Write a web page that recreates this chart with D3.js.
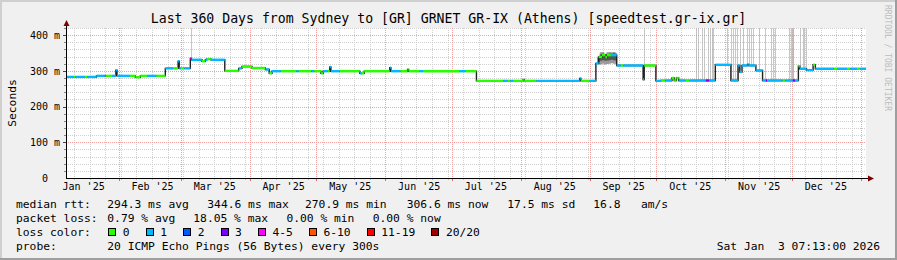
<!DOCTYPE html>
<html lang="en">
<head>
  <meta charset="UTF-8" />
  <title>Last 360 Days from Sydney to GR-IX</title>
  <style>
    html, body { margin: 0; padding: 0; background: #f0f0f0; }
    svg { display: block; font-family: 'DejaVu Sans Mono', monospace; }
    text { fill: #000; white-space: pre; }
  </style>
</head>
<body>
  <svg width="897" height="260"></svg>

  <script src="https://d3js.org/d3.v7.min.js"></script>
  <script>
    // loss classes
    const lossLabels = ["0", "1", "2", "3", "4-5", "6-10", "11-19", "20/20"];
    const lossColors = ["#26ff00", "#00b8ff", "#0059ff", "#7e00ff", "#ff00ff", "#ff5500", "#ff0000", "#a10000"];

    // median rtt runs: each run lasts until the next one starts
    const runStart = [
      "2025-01-08 07", "2025-01-11 18", "2025-01-12 12", "2025-01-16 18", "2025-01-18", "2025-01-22",
      "2025-01-25 18", "2025-01-26 06", "2025-01-29", "2025-01-30 18", "2025-01-31 06",
      "2025-02-06", "2025-02-08 12", "2025-02-10 18", "2025-02-14", "2025-02-18", "2025-02-22",
      "2025-02-25 12", "2025-02-27 18", "2025-02-28 06",
      "2025-03-01", "2025-03-02 12", "2025-03-05 06", "2025-03-05 18", "2025-03-10 12", "2025-03-12",
      "2025-03-12 18", "2025-03-14 12", "2025-03-20 18", "2025-03-27", "2025-03-28 12",
      "2025-04-02", "2025-04-08", "2025-04-09 18", "2025-04-11", "2025-04-15", "2025-04-22",
      "2025-04-23", "2025-04-28 18", "2025-04-30",
      "2025-05-03", "2025-05-04", "2025-05-06", "2025-05-07", "2025-05-07 12", "2025-05-11 12",
      "2025-05-20 12", "2025-05-21 12", "2025-05-22 12",
      "2025-06-03", "2025-06-03 12", "2025-06-07 18", "2025-06-11", "2025-06-11 12", "2025-06-16 12",
      "2025-06-18",
      "2025-07-04 12", "2025-07-07", "2025-07-12", "2025-07-24", "2025-07-26", "2025-07-27 06",
      "2025-07-28 12",
      "2025-08-02", "2025-08-02 12", "2025-08-08", "2025-08-27 12", "2025-08-28",
      "2025-09-01", "2025-09-03 18", "2025-09-05", "2025-09-06 12", "2025-09-08", "2025-09-08 18",
      "2025-09-10 12", "2025-09-13 03", "2025-09-15", "2025-09-16", "2025-09-25", "2025-09-25 12",
      "2025-09-30 18",
      "2025-10-03", "2025-10-05", "2025-10-08", "2025-10-09", "2025-10-10", "2025-10-11", "2025-10-14",
      "2025-10-16", "2025-10-23 06", "2025-10-24 18", "2025-10-27 12",
      "2025-11-03 12", "2025-11-06 18", "2025-11-07 12", "2025-11-08 12", "2025-11-11", "2025-11-11 12",
      "2025-11-14 18", "2025-11-17 18", "2025-11-19 06", "2025-11-19 18", "2025-11-26 18", "2025-11-28",
      "2025-12-01 09", "2025-12-02 09", "2025-12-03 21", "2025-12-04 12", "2025-12-07 12", "2025-12-10 12",
      "2025-12-11 12", "2025-12-19 18", "2025-12-21 06", "2025-12-25 18", "2025-12-27 06", "2025-12-30 06",
      "2025-12-31 18"
    ];
    const runMedian = [
      283, 283, 283, 283, 283, 286,
      286, 286, 286, 302, 286,
      286, 282, 286, 286, 286, 307,
      307, 327, 307,
      307, 307, 335, 331, 327, 331,
      333, 331, 300, 307, 312,
      308, 304, 293, 299, 299, 299,
      299, 299, 299,
      293, 299, 299, 311, 299, 299,
      293, 293, 299,
      309, 299, 299, 304, 299, 299,
      299,
      299, 299, 272, 272, 272, 272,
      272,
      275, 272, 272, 279, 272,
      272, 321, 339, 344, 339, 344,
      344, 315, 315, 315, 276, 315,
      272,
      273, 273, 280, 273, 280, 273, 273,
      273, 273, 273, 317,
      273, 315, 297, 315, 318, 315,
      301, 273, 273, 273, 273, 273,
      273, 273, 313, 306, 302, 317,
      306, 306, 306, 306, 306, 306,
      306
    ];
    const runLoss = [
      1, 0, 1, 0, 1, 1,
      4, 0, 1, 1, 1,
      0, 0, 0, 1, 0, 1,
      0, 1, 1,
      0, 1, 4, 1, 0, 1,
      0, 1, 0, 1, 0,
      0, 1, 0, 1, 0, 1,
      0, 1, 0,
      0, 1, 0, 1, 1, 0,
      1, 0, 0,
      1, 1, 0, 0, 0, 1,
      0,
      1, 0, 0, 1, 0, 1,
      0,
      1, 0, 1, 1, 0,
      1, 1, 0, 0, 0, 0,
      1, 1, 0, 1, 1, 0,
      1,
      0, 1, 0, 0, 0, 1, 0,
      1, 3, 1, 1,
      1, 1, 1, 1, 1, 1,
      1, 1, 3, 1, 0, 1,
      3, 1, 0, 1, 1, 0,
      1, 0, 1, 0, 1, 0,
      1
    ];

    // dense smoke around early September
    const bandDates = ["2025-09-04 12", "2025-09-05 12", "2025-09-06 12", "2025-09-07 12", "2025-09-08 12",
                       "2025-09-09 12", "2025-09-10 12", "2025-09-11 12", "2025-09-12 12", "2025-09-13 03"];
    const bandLo    = [317, 318, 320, 318, 319, 320, 321, 320, 318, 318];
    const bandHi    = [340, 352, 353, 348, 352, 353, 352, 353, 351, 351];
    const bandInLo  = [325, 328, 330, 328, 329, 330, 331, 330, 328, 328];
    const bandInHi  = [338, 346, 348, 344, 347, 348, 348, 349, 346, 346];

    // single pings above the top of the graph
    const spikeDates = [
      "2025-03-05 12", "2025-09-25 12",
      "2025-10-19 00", "2025-10-19 18", "2025-10-21 10", "2025-10-22 14",
      "2025-10-24 10", "2025-10-25 06", "2025-10-25 20", "2025-10-26 14",
      "2025-11-01 16", "2025-11-03 14", "2025-11-04 12", "2025-11-05 12", "2025-11-06 06",
      "2025-11-07 18", "2025-11-08 18", "2025-11-10 18", "2025-11-11 12", "2025-11-12 10", "2025-11-13 06",
      "2025-11-16 06", "2025-11-19 00", "2025-11-21 18", "2025-11-22 12", "2025-11-23 06",
      "2025-11-29 20", "2025-11-30 08", "2025-11-30 20", "2025-12-01 08", "2025-12-01 14",
      "2025-12-04 18", "2025-12-05 18", "2025-12-06 12", "2025-12-07 10"
    ];

    const yTicks = [0, 100, 200, 300, 400];

    const rttStats  = ["294.3 ms avg", "344.6 ms max", "270.9 ms min", "306.6 ms now", "17.5 ms sd", "16.8   am/s"];
    const lossStats = ["0.79 % avg", "18.05 % max", "0.00 % min", "0.00 % now"];
    const probeText = "20 ICMP Echo Pings (56 Bytes) every 300s";
    const stampText = "Sat Jan  3 07:13:00 2026";
    const titleText = "Last 360 Days from Sydney to [GR] GRNET GR-IX (Athens) [speedtest.gr-ix.gr]";

    // ---------------------------------------------------------------
    const W = 897, H = 260;
    const tStart = new Date(2025, 0, 8, 7, 13);
    const tEnd = new Date(2026, 0, 3, 7, 13);
    const parseT = s => (s.length > 10 ? d3.timeParse("%Y-%m-%d %H") : d3.timeParse("%Y-%m-%d"))(s);

    const x = d3.scaleTime().domain([tStart, tEnd]).range([66, 866]);
    const y = d3.scaleLinear().domain([0, 420]).range([178, 28]);
    const [x0, x1] = x.range();
    const [y0, y1] = y.range();
    const px = v => Math.round(v) + 0.5;

    const svg = d3.select("svg");

    // background + 3d frame
    svg.append("rect").attr("width", W).attr("height", H).attr("fill", "#f0f0f0");
    svg.append("path").attr("d", `M0,1H${W}M1,0V${H}`)
      .attr("stroke", "#cfcfcf").attr("stroke-width", 2);
    svg.append("path").attr("d", `M0,${H - 1}H${W}M${W - 1},0V${H}`)
      .attr("stroke", "#9e9e9e").attr("stroke-width", 2);

    // canvas
    svg.append("rect").attr("x", x0).attr("y", y1)
      .attr("width", x1 - x0).attr("height", y0 - y1).attr("fill", "#fff");

    svg.append("clipPath").attr("id", "plot")
      .append("rect").attr("x", x0).attr("y", y1).attr("width", x1 - x0).attr("height", y0 - y1);

    // grid
    const grid = svg.append("g").attr("shape-rendering", "crispEdges").attr("fill", "none");
    const yMinor = d3.range(20, 421, 20).filter(v => v % 100);
    const yMajor = d3.range(100, 421, 100);
    const weeks = d3.timeSunday.range(tStart, tEnd);
    const months = d3.timeMonth.range(tStart, tEnd);

    grid.selectAll(".hmin").data(yMinor).join("line")
      .attr("x1", x0).attr("x2", x1)
      .attr("y1", d => px(y(d))).attr("y2", d => px(y(d)))
      .attr("stroke", "#d0d0d0").attr("stroke-dasharray", "1,1");
    grid.selectAll(".vmin").data(weeks).join("line")
      .attr("x1", d => px(x(d))).attr("x2", d => px(x(d)))
      .attr("y1", y1).attr("y2", y0)
      .attr("stroke", "#d0d0d0").attr("stroke-dasharray", "1,1");
    grid.selectAll(".hmaj").data(yMajor).join("line")
      .attr("x1", x0).attr("x2", x1)
      .attr("y1", d => px(y(d))).attr("y2", d => px(y(d)))
      .attr("stroke", "#f2a0a0").attr("stroke-dasharray", "1,1");
    grid.selectAll(".vmaj").data(months).join("line")
      .attr("x1", d => px(x(d))).attr("x2", d => px(x(d)))
      .attr("y1", y1).attr("y2", y0)
      .attr("stroke", "#f2a0a0").attr("stroke-dasharray", "1,1");

    // runs
    const runs = runStart.map((s, i) => ({
      t0: parseT(s),
      t1: i + 1 < runStart.length ? parseT(runStart[i + 1]) : tEnd,
      ms: runMedian[i],
      loss: runLoss[i]
    }));
    const medianAt = t => runs[Math.max(0, d3.bisector(r => r.t0).right(runs, t) - 1)].ms;

    const plot = svg.append("g").attr("clip-path", "url(#plot)");

    // smoke
    plot.selectAll(".spike").data(spikeDates.map(parseT)).join("rect")
      .attr("x", d => Math.round(x(d)))
      .attr("width", 1)
      .attr("y", y1)
      .attr("height", d => y(medianAt(d)) - y1)
      .attr("fill", "#b4b4b4")
      .attr("opacity", 0.75);

    const band = bandDates.map((s, i) => ({ t: parseT(s), lo: bandLo[i], hi: bandHi[i], lo2: bandInLo[i], hi2: bandInHi[i] }));
    plot.append("path")
      .attr("d", d3.area().x(d => x(d.t)).y0(d => y(d.lo)).y1(d => y(d.hi)).curve(d3.curveStepAfter)(band))
      .attr("fill", "#9a9a9a");
    plot.append("path")
      .attr("d", d3.area().x(d => x(d.t)).y0(d => y(d.lo2)).y1(d => y(d.hi2)).curve(d3.curveStepAfter)(band))
      .attr("fill", "#555");

    // median: thin dark step line, coloured by loss on top
    const pts = runs.map(r => [r.t0, r.ms]).concat([[tEnd, runs[runs.length - 1].ms]]);
    plot.append("path")
      .attr("d", d3.line().x(d => x(d[0])).y(d => y(d[1])).curve(d3.curveStepAfter)(pts))
      .attr("fill", "none").attr("stroke", "#202020").attr("stroke-width", 1.4);
    plot.selectAll(".seg").data(runs).join("line")
      .attr("x1", r => x(r.t0)).attr("x2", r => x(r.t1))
      .attr("y1", r => y(r.ms)).attr("y2", r => y(r.ms))
      .attr("stroke", r => lossColors[r.loss])
      .attr("stroke-width", 2.4);

    // ticks on the axes
    const ticks = svg.append("g").attr("shape-rendering", "crispEdges");
    ticks.selectAll(".xt1").data(weeks).join("line")
      .attr("x1", d => px(x(d))).attr("x2", d => px(x(d))).attr("y1", y0).attr("y2", y0 + 2)
      .attr("stroke", "#bbb");
    ticks.selectAll(".xt2").data(months).join("line")
      .attr("x1", d => px(x(d))).attr("x2", d => px(x(d))).attr("y1", y0).attr("y2", y0 + 3)
      .attr("stroke", "#f06060");
    ticks.selectAll(".yt1").data(yMinor).join("line")
      .attr("x1", x0 - 2).attr("x2", x0).attr("y1", d => px(y(d))).attr("y2", d => px(y(d)))
      .attr("stroke", "#888");
    ticks.selectAll(".yt2").data(yMajor).join("line")
      .attr("x1", x0 - 3).attr("x2", x0).attr("y1", d => px(y(d))).attr("y2", d => px(y(d)))
      .attr("stroke", "#444");

    // axis lines + arrows
    svg.append("path")
      .attr("d", `M${x0 + 0.5},${y0 + 0.5}V${y1 - 3}M${x0},${y0 + 0.5}H${x1 + 3}`)
      .attr("stroke", "#000").attr("fill", "none").attr("shape-rendering", "crispEdges");
    svg.append("path")
      .attr("d", `M${x0 + 0.5},${y1 - 8}L${x0 - 2.5},${y1 - 2}L${x0 + 3.5},${y1 - 2}Z`)
      .attr("fill", "#7f0000");
    svg.append("path")
      .attr("d", `M${x1 + 8},${y0 + 0.5}L${x1 + 2},${y0 - 2.5}L${x1 + 2},${y0 + 3.5}Z`)
      .attr("fill", "#7f0000");

    // axis labels
    const yAxis = svg.append("g").attr("transform", `translate(${x0},0)`)
      .call(d3.axisLeft(y).tickValues(yTicks).tickSize(0).tickPadding(6)
        .tickFormat(v => v ? `${v} m` : "0  "));
    yAxis.attr("font-family", "'DejaVu Sans Mono', monospace").attr("font-size", 10);
    yAxis.select(".domain").remove();
    yAxis.selectAll("text").attr("xml:space", "preserve").attr("fill", "#000");

    const monthMids = d3.timeMonth.range(d3.timeMonth.floor(tStart), tEnd)
      .map(m => d3.timeDay.offset(m, 15))
      .filter(d => d >= tStart && d <= tEnd);
    const xAxis = svg.append("g").attr("transform", `translate(0,${y0})`)
      .call(d3.axisBottom(x).tickValues(monthMids).tickSize(0).tickPadding(5)
        .tickFormat(d3.timeFormat("%b '%y")));
    xAxis.attr("font-family", "'DejaVu Sans Mono', monospace").attr("font-size", 10);
    xAxis.select(".domain").remove();
    xAxis.selectAll("text").attr("fill", "#000");

    // title, vertical label, watermark
    svg.append("text").attr("x", W / 2).attr("y", 23)
      .attr("text-anchor", "middle").attr("font-size", 13.2).text(titleText);
    svg.append("text").attr("transform", `translate(15.5,${(y0 + y1) / 2}) rotate(-90)`)
      .attr("text-anchor", "middle").attr("font-size", 11.3).text("Seconds");
    svg.append("text").attr("transform", "translate(885,5) rotate(90)")
      .attr("font-size", 8).style("fill", "#bdbdbd").text("RRDTOOL / TOBI OETIKER");

    // legend
    const leg = svg.append("g").attr("font-size", 11.3);
    const put = (s, lx, yb, anchor) => leg.append("text")
      .attr("x", lx).attr("y", yb)
      .attr("text-anchor", anchor || "start")
      .attr("xml:space", "preserve")
      .style("white-space", "pre")
      .text(s);

    put("median rtt:", 16, 208);
    const rttX = [107.3, 207.3, 305, 406.7, 507.3, 593.3];
    rttStats.forEach((s, i) => put(s, rttX[i], 208));

    put("packet loss:", 16, 222);
    const lossX = [107.3, 193.3, 286.4, 372.7];
    lossStats.forEach((s, i) => put(s, lossX[i], 222));

    put("loss color:", 16, 236);
    let bx = 108.3;
    lossLabels.forEach((lab, i) => {
      leg.append("rect").attr("x", Math.round(bx) + 0.5).attr("y", 228.5)
        .attr("width", 7).attr("height", 7)
        .attr("fill", lossColors[i]).attr("stroke", "#000");
      const t = put(lab, bx + 14.5, 236);
      bx += 14.5 + t.node().getComputedTextLength() + 16.1;
    });

    put("probe:", 16, 250);
    put(probeText, 107.3, 250);
    put(stampText, 880, 250, "end");
  </script>
</body>
</html>
